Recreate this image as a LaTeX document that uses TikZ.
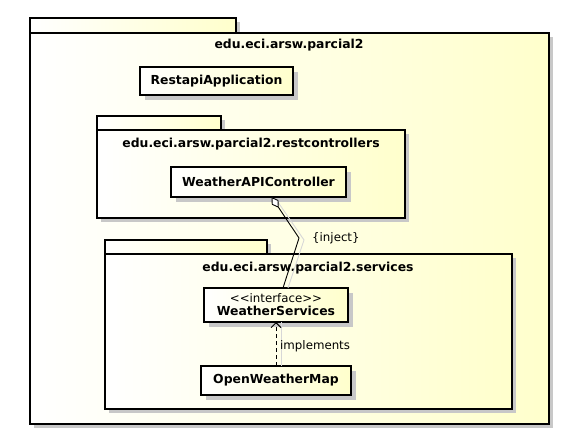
\documentclass[tikz,border=0pt]{standalone}
\usepackage{fontspec}
\setmainfont{DejaVu Sans}
\usetikzlibrary{arrows.meta,calc,shadows}
\definecolor{ylw}{RGB}{255,255,204}
\definecolor{shd}{RGB}{200,200,200}
\definecolor{shdline}{RGB}{215,215,215}
\begin{document}
\begin{tikzpicture}[x=1pt,y=-1pt,
  pkg/.style={draw=black,line width=2pt,left color=white,right color=ylw,
    anchor=north west,inner sep=0pt,outer sep=0pt,
    drop shadow={shadow xshift=4pt,shadow yshift=-4pt,fill=shd,opacity=1}},
  cls/.style={draw=black,line width=1.7pt,left color=white,right color=ylw,
    anchor=north west,inner sep=0pt,outer sep=0pt,align=center,
    font=\fontsize{12.4}{14}\selectfont\bfseries,
    drop shadow={shadow xshift=5pt,shadow yshift=-5pt,fill=shd,opacity=1}},
  ttl/.style={font=\fontsize{12.4}{14}\selectfont\bfseries,inner sep=0pt},
  lbl/.style={font=\fontsize{11.8}{14}\selectfont,inner sep=0pt},
  conn/.style={line width=0.9pt,black},
  connshadow/.style={line width=0.9pt,shdline}]
\useasboundingbox (0,0) rectangle (575,441);
\fill[white] (0,0) rectangle (575,441);
% outer package
\node[pkg,minimum width=206pt,minimum height=15pt] (otab) at (30,18) {};
\node[pkg,minimum width=519pt,minimum height=391pt] (obody) at (30,33) {};
\node[ttl] (otitle) at (289,45) {edu.eci.arsw.parcial2};
\node[cls,minimum width=153pt,minimum height=28pt] (app) at (140,67) {RestapiApplication};
% restcontrollers package
\node[pkg,minimum width=124pt,minimum height=14pt] (rtab) at (97,116) {};
\node[pkg,minimum width=308pt,minimum height=88pt] (rbody) at (97,130) {};
\node[ttl] (rtitle) at (251,144) {edu.eci.arsw.parcial2.restcontrollers};
\node[cls,minimum width=175pt,minimum height=30pt] (api) at (171,167) {WeatherAPIController};
% services package
\node[pkg,minimum width=162pt,minimum height=14pt] (stab) at (105,240) {};
\node[pkg,minimum width=407pt,minimum height=155pt] (sbody) at (105,254) {};
\node[ttl] (stitle) at (308,268) {edu.eci.arsw.parcial2.services};
\node[cls,minimum width=144pt,minimum height=34pt] (ws) at (204,288)
  {{\fontsize{11.8}{13}\selectfont\mdseries <{}<interface>{}>}\\[-1pt]WeatherServices};
\node[cls,minimum width=150pt,minimum height=29pt] (ow) at (201,366) {OpenWeatherMap};
% connectors
\coordinate (bend) at (299,238);
\coordinate (aggstart) at ([xshift=13pt]api.south);
\coordinate (aggend) at ([xshift=7pt]ws.north);
\draw[connshadow] ([shift={(5,3)}]aggstart) -- ([shift={(5,2)}]bend) -- ([shift={(5,0)}]aggend);
\draw[connshadow] ([xshift=5pt]ow.north) -- ([xshift=5pt]ws.south);
\draw[conn,{Diamond[fill=white,length=13pt,width=8pt,line width=0.9pt]}-] (aggstart) -- (bend) -- (aggend);
\node[lbl,anchor=west] (inj) at (312,238) {\{inject\}};
\draw[conn,dash pattern=on 4pt off 3pt,-{Straight Barb[length=5pt,width=10pt,line width=0.9pt]}] (ow.north) -- (ws.south);
\node[lbl,anchor=west] (impl) at (280,346) {implements};
\end{tikzpicture}
\end{document}
